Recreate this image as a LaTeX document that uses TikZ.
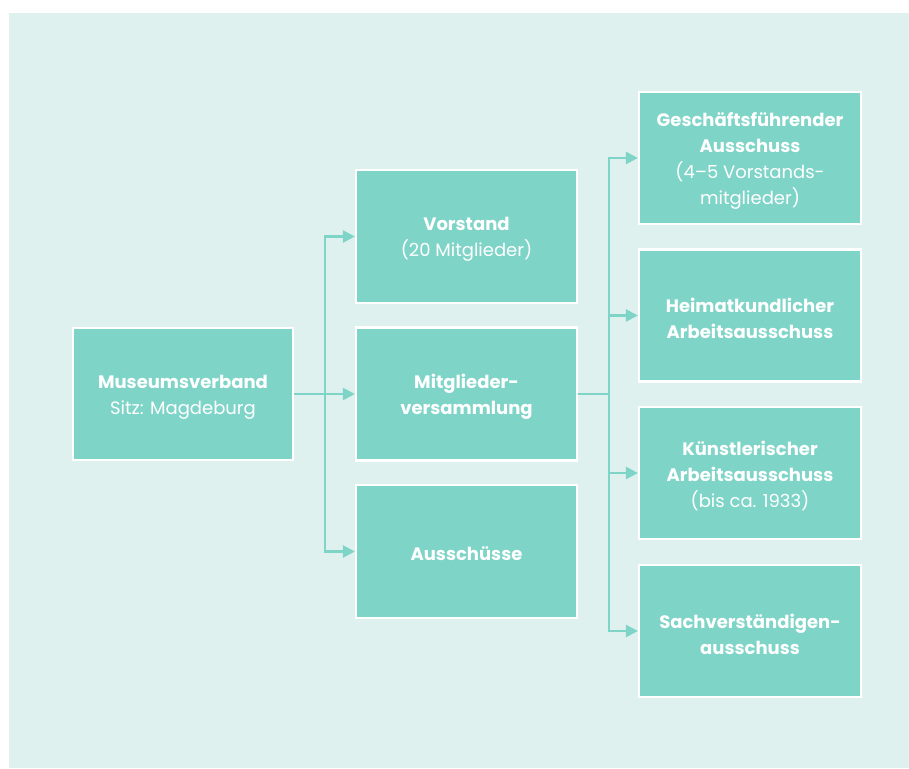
\documentclass[tikz,border=0pt]{standalone}
\usepackage{fontspec}
\setmainfont{Poppins}
\usetikzlibrary{arrows.meta}
\definecolor{bgc}{HTML}{DFF1EE}
\definecolor{boxc}{HTML}{7FD4C8}
\definecolor{linec}{HTML}{7FD4C8}
\begin{document}
\begin{tikzpicture}[x=1pt,y=-1pt,
  box/.style={draw=white, line width=2.2pt, fill=boxc, minimum width=220pt, minimum height=132pt,
    inner sep=0pt},
  txt/.style={inner sep=0pt, text=white, align=center, font=\fontsize{18}{26}\selectfont},
  conn/.style={draw=linec, line width=2.4pt},
  tip/.style={-{Triangle[length=12pt,width=12pt]}},
  tips/.style={{Triangle[length=12pt,width=12pt]}-{Triangle[length=12pt,width=12pt]}}]
\useasboundingbox (0,0) rectangle (909,768);
\fill[bgc] (9,13) rectangle (909,768);
\node[box] (mv) at (183,394) {};
\node[box,minimum width=221pt,minimum height=133pt] (vor) at (466.5,236.5) {};
\node[box,minimum width=221pt,minimum height=133pt] (mit) at (466.5,394) {};
\node[box,minimum width=221pt,minimum height=133pt] (aus) at (466.5,551.5) {};
\node[box,minimum width=222pt] (g1) at (750,158) {};
\node[box,minimum width=222pt] (g2) at (750,315.5) {};
\node[box,minimum width=222pt] (g3) at (750,473) {};
\node[box,minimum width=222pt] (g4) at (750,631) {};
\node[txt] (mvt) at ([yshift=-3pt]mv.center) {\textbf{Museumsverband}\\Sitz: Magdeburg};
\node[txt] (vort) at ([yshift=-3pt]vor.center) {\textbf{Vorstand}\\(20 Mitglieder)};
\node[txt] (mitt) at ([yshift=-3pt]mit.center) {\textbf{Mitglieder-}\\\textbf{versammlung}};
\node[txt] (aust) at ([yshift=-2pt]aus.center) {\textbf{Ausschüsse}};
\node[txt] (g1t) at ([yshift=-3pt]g1.center) {\textbf{Geschäftsführender}\\\textbf{Ausschuss}\\(4–5 Vorstands-\\mitglieder)};
\node[txt] (g2t) at ([yshift=-3pt]g2.center) {\textbf{Heimatkundlicher}\\\textbf{Arbeitsausschuss}};
\node[txt] (g3t) at ([yshift=-3pt]g3.center) {\textbf{Künstlerischer}\\\textbf{Arbeitsausschuss}\\(bis ca. 1933)};
\node[txt] (g4t) at ([yshift=-3pt]g4.center) {\textbf{Sachverständigen-}\\\textbf{ausschuss}};
\coordinate (j1) at (325,394);
\coordinate (j2) at (609,394);
\draw[conn,tip] (mv.east) -- (mit.west);
\draw[conn,tips] (vor.west) -- (j1|-vor.west) -- (j1|-aus.west) -- (aus.west);
\draw[conn] (mit.east) -- (j2);
\draw[conn,tips] (g1.west) -- (j2|-g1.west) -- (j2|-g4.west) -- (g4.west);
\draw[conn,tip] (j2|-g2.west) -- (g2.west);
\draw[conn,tip] (j2|-g3.west) -- (g3.west);
\end{tikzpicture}
\end{document}
